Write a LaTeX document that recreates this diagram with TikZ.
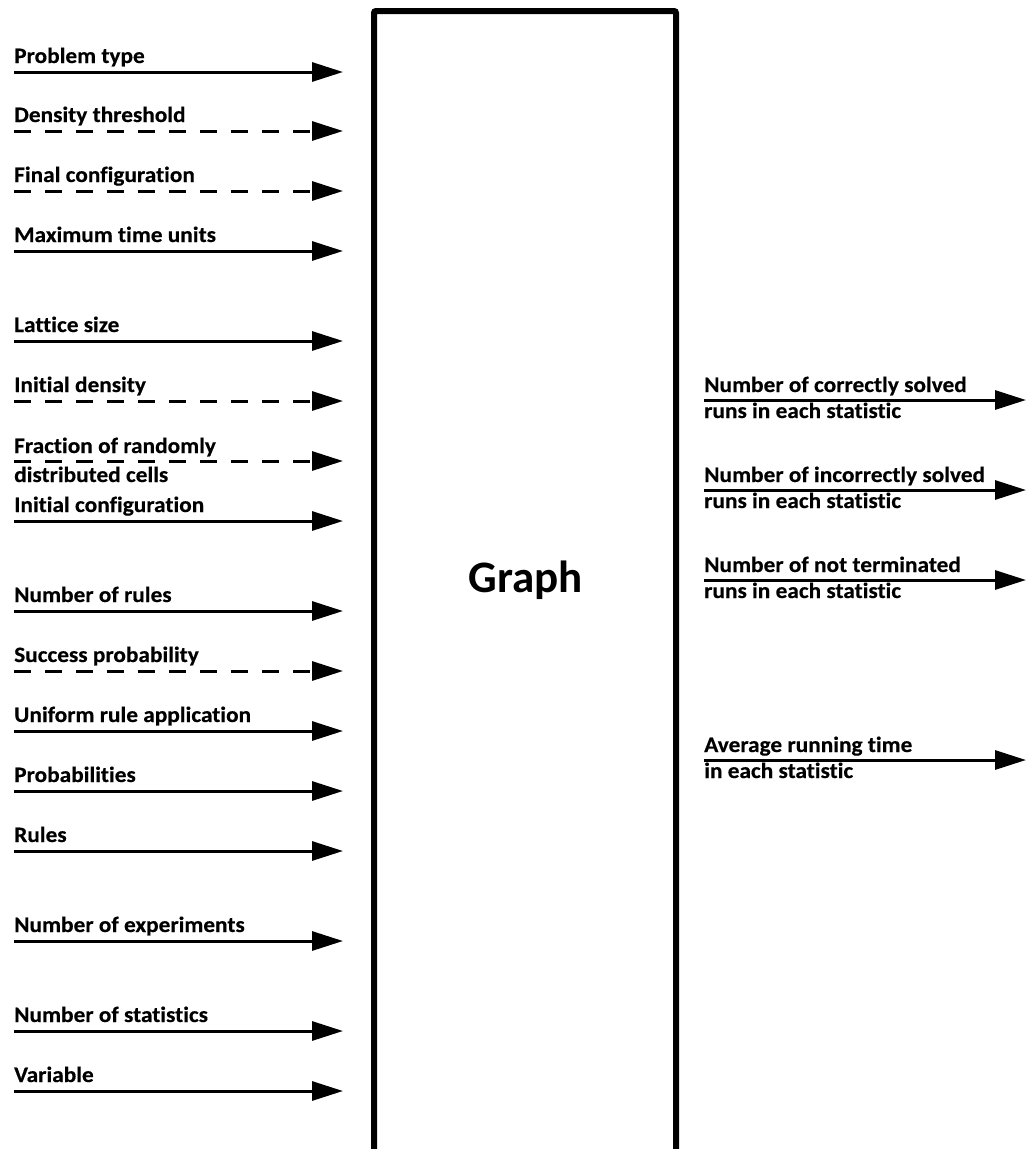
\documentclass[tikz,border=0pt]{standalone}
\usepackage{fontspec}
\setmainfont{Carlito}[Ligatures=NoCommon]
\newfontfamily\labfont{Carlito}[Ligatures=NoCommon, FakeStretch=1.06, FakeBold=0.4]
\usetikzlibrary{arrows.meta}
\begin{document}
\begin{tikzpicture}[x=1pt,y=-1pt,
  flow/.style={line width=3pt, -{Triangle[length=31pt,width=19pt]}},
  opt/.style={flow, dash pattern=on 17pt off 14pt},
  lab/.style={anchor=base west, inner sep=0pt, font=\labfont\bfseries\fontsize{22}{26}\selectfont}]
\useasboundingbox (0,0) rectangle (1027,1149);
% main box
\node[draw, line width=6pt, rounded corners=2pt, minimum width=302pt, minimum height=1141pt, inner sep=0pt] (box) at (525,581.5) {};
\node[anchor=base, inner sep=0pt, font=\bfseries\fontsize{45}{50}\selectfont] (title) at (526,592) {Graph};
% inputs
\foreach \yy/\tt/\ss [count=\i] in {
  72/Problem type/flow,
  131/Density threshold/opt,
  191/Final configuration/opt,
  251/Maximum time units/flow,
  341/Lattice size/flow,
  401/Initial density/opt,
  521/Initial configuration/flow,
  611/Number of rules/flow,
  671/Success probability/opt,
  731/Uniform rule application/flow,
  791/Probabilities/flow,
  851/Rules/flow,
  941/Number of experiments/flow,
  1031/Number of statistics/flow,
  1091/Variable/flow} {
  \coordinate (in\i s) at (14,\yy);
  \coordinate (in\i e) at (343,\yy);
  \draw[\ss] (in\i s) -- (in\i e);
  \node[lab] (inlab\i) at (14,\yy-9) {\tt};
}
% two-line input
\coordinate (frs) at (14,461);
\coordinate (fre) at (343,461);
\draw[opt] (frs) -- (fre);
\node[lab] (frlab1) at (14,453) {Fraction of randomly};
\node[lab] (frlab2) at (14,482) {distributed cells};
% outputs
\foreach \yy/\ta/\tb [count=\i] in {
  400/Number of correctly solved/runs in each statistic,
  490/Number of incorrectly solved/runs in each statistic,
  580/Number of not terminated/runs in each statistic,
  760/Average running time/in each statistic} {
  \coordinate (out\i s) at (704,\yy);
  \coordinate (out\i e) at (1026,\yy);
  \draw[flow] (out\i s) -- (out\i e);
  \node[lab] (outlab\i a) at (704,\yy-8) {\ta};
  \node[lab] (outlab\i b) at (704,\yy+18) {\tb};
}
\end{tikzpicture}
\end{document}
